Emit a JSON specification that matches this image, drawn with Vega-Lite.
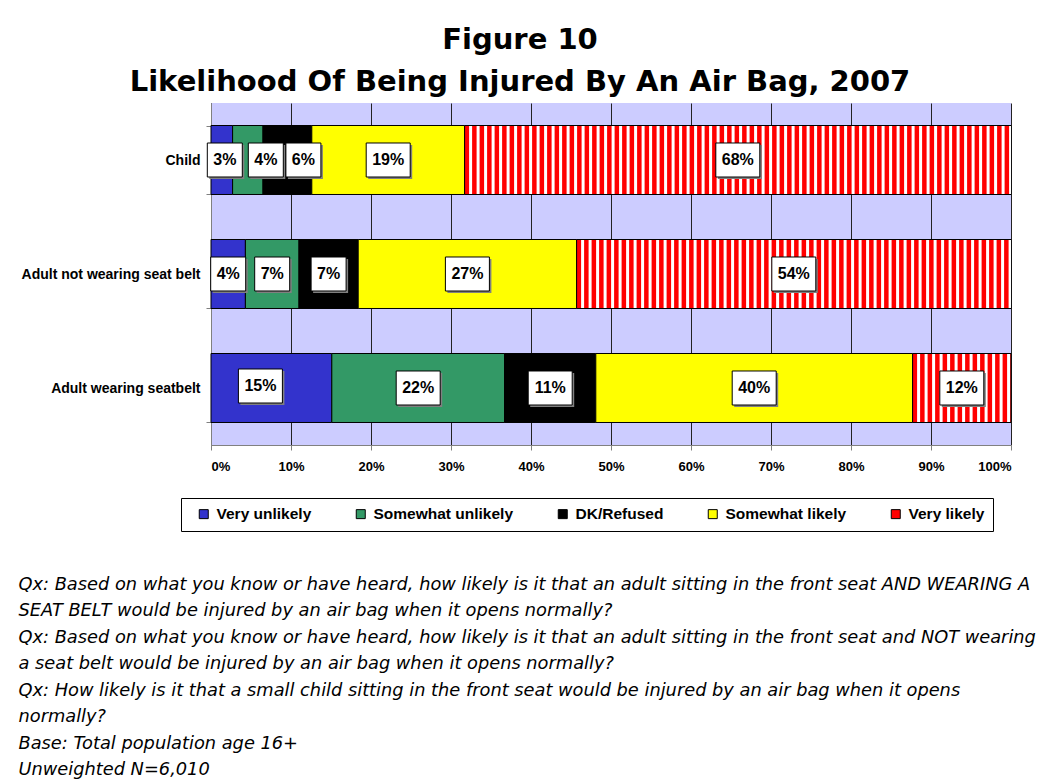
{
  "$schema": "https://vega.github.io/schema/vega-lite/v6.json",
  "autosize": "none",
  "width": 800,
  "height": 342,
  "padding": {"left": 211, "top": 103, "right": 26, "bottom": 339},
  "background": "white",
  "config": {
    "font": "Liberation Sans",
    "view": {"fill": "#CCCCFF", "stroke": null},
    "title": {"font": "DejaVu Sans", "fontSize": 29, "fontWeight": "bold", "color": "black", "lineHeight": 42, "anchor": "middle", "dx": -91, "offset": -1}
  },
  "title": {"text": ["Figure 10", "Likelihood Of Being Injured By An Air Bag, 2007"]},
  "data": {
    "values": [
      {"group": "Child", "cat": "Very unlikely", "order": 1, "pct": 0.027},
      {"group": "Child", "cat": "Somewhat unlikely", "order": 2, "pct": 0.038},
      {"group": "Child", "cat": "DK/Refused", "order": 3, "pct": 0.061},
      {"group": "Child", "cat": "Somewhat likely", "order": 4, "pct": 0.191},
      {"group": "Child", "cat": "Very likely", "order": 5, "pct": 0.683},
      {"group": "Adult not wearing seat belt", "cat": "Very unlikely", "order": 1, "pct": 0.043},
      {"group": "Adult not wearing seat belt", "cat": "Somewhat unlikely", "order": 2, "pct": 0.067},
      {"group": "Adult not wearing seat belt", "cat": "DK/Refused", "order": 3, "pct": 0.074},
      {"group": "Adult not wearing seat belt", "cat": "Somewhat likely", "order": 4, "pct": 0.273},
      {"group": "Adult not wearing seat belt", "cat": "Very likely", "order": 5, "pct": 0.543},
      {"group": "Adult wearing seatbelt", "cat": "Very unlikely", "order": 1, "pct": 0.151},
      {"group": "Adult wearing seatbelt", "cat": "Somewhat unlikely", "order": 2, "pct": 0.216},
      {"group": "Adult wearing seatbelt", "cat": "DK/Refused", "order": 3, "pct": 0.114},
      {"group": "Adult wearing seatbelt", "cat": "Somewhat likely", "order": 4, "pct": 0.396},
      {"group": "Adult wearing seatbelt", "cat": "Very likely", "order": 5, "pct": 0.123}
    ]
  },
  "encoding": {
    "y": {
      "field": "group", "type": "nominal",
      "sort": ["Child", "Adult not wearing seat belt", "Adult wearing seatbelt"],
      "scale": {"paddingInner": 0.395, "paddingOuter": 0.1975},
      "axis": {
        "title": null, "tickBand": "extent", "domainColor": "#808080", "tickColor": "#808080", "tickSize": 5,
        "labelFont": "Liberation Sans", "labelFontSize": 14, "labelFontWeight": "bold", "labelColor": "black", "labelPadding": 6, "labelLimit": 300
      }
    }
  },
  "layer": [
    {
      "mark": {"type": "bar", "stroke": "black", "strokeWidth": 1},
      "encoding": {
        "x": {
          "field": "pct", "type": "quantitative", "stack": "zero",
          "scale": {"domain": [0, 1], "nice": false},
          "axis": {
            "values": [0, 0.1, 0.2, 0.3, 0.4, 0.5, 0.6, 0.7, 0.8, 0.9, 1],
            "format": ".0%", "grid": true, "gridColor": "#222222", "gridWidth": 1, "gridOpacity": 1,
            "domainColor": "#808080", "tickColor": "#808080", "tickSize": 5,
            "labelFont": "Liberation Sans", "labelFontSize": 13, "labelFontWeight": "bold", "labelColor": "black", "labelPadding": 10,
            "title": [
              "Qx: Based on what you know or have heard, how likely is it that an adult sitting in the front seat AND WEARING A",
              "SEAT BELT would be injured by an air bag when it opens normally?",
              "Qx: Based on what you know or have heard, how likely is it that an adult sitting in the front seat and NOT wearing",
              "a seat belt would be injured by an air bag when it opens normally?",
              "Qx: How likely is it that a small child sitting in the front seat would be injured by an air bag when it opens",
              "normally?",
              "Base: Total population age 16+",
              "Unweighted N=6,010"
            ],
            "titleFont": "DejaVu Sans", "titleFontSize": 17.8, "titleFontStyle": "italic", "titleFontWeight": "normal",
            "titleColor": "black", "titleLineHeight": 26.5, "titleAlign": "left", "titleBaseline": "top",
            "titleX": -193, "titleY": 130, "titleAngle": 0
          }
        },
        "order": {"field": "order", "type": "quantitative"},
        "color": {
          "field": "cat", "type": "nominal",
          "scale": {
            "domain": ["Very unlikely", "Somewhat unlikely", "DK/Refused", "Somewhat likely", "Very likely"],
            "range": ["#3333CC", "#339966", "#000000", "#FFFF00", "#FF0000"]
          },
          "legend": {
            "title": null, "orient": "none", "legendX": -30, "legendY": 395, "direction": "horizontal",
            "strokeColor": "black", "padding": 8, "symbolOffset": 7,
            "symbolType": "square", "symbolSize": 81, "symbolStrokeColor": "black", "symbolStrokeWidth": 1,
            "labelFont": "Liberation Sans", "labelFontSize": 15.5, "labelFontWeight": "bold", "labelColor": "black",
            "labelOffset": 5, "columnPadding": 34, "labelLimit": 300
          }
        }
      }
    },
    {
      "transform": [
        {"stack": "pct", "groupby": ["group"], "sort": [{"field": "order"}], "as": ["x0", "x1"]},
        {"filter": "datum.cat === 'Very likely'"}
      ],
      "mark": {"type": "rule", "stroke": "white", "strokeWidth": 68, "strokeDash": [3, 4.5], "strokeDashOffset": 3, "strokeCap": "butt"},
      "encoding": {
        "x": {"field": "x0", "type": "quantitative"},
        "x2": {"field": "x1"}
      }
    },
    {
      "mark": {
        "type": "point", "filled": true, "fill": "#808080", "opacity": 1, "stroke": null,
        "shape": {"expr": "datum.pct >= 0.095 ? 'M-1,-0.773H1V0.773H-1Z' : 'M-1,-0.971H1V0.971H-1Z'"},
        "size": {"expr": "datum.pct >= 0.095 ? 1936 : 1225"},
        "xOffset": {"expr": "2 + (datum.group === 'Child' ? (datum.cat === 'Very unlikely' ? 3 : datum.cat === 'Somewhat unlikely' ? 18 : datum.cat === 'DK/Refused' ? 16 : 0) : (datum.group === 'Adult wearing seatbelt' && datum.cat === 'Very unlikely' ? -11 : 0))"},
        "yOffset": {"expr": "2 + (datum.group === 'Adult wearing seatbelt' && datum.cat === 'Very unlikely' ? -2 : 0)"}
      },
      "encoding": {
        "x": {"field": "pct", "type": "quantitative", "stack": "zero", "bandPosition": 0.5},
        "order": {"field": "order", "type": "quantitative"}
      }
    },
    {
      "mark": {
        "type": "point", "filled": true, "fill": "white", "opacity": 1, "stroke": "black", "strokeWidth": 1,
        "shape": {"expr": "datum.pct >= 0.095 ? 'M-1,-0.773H1V0.773H-1Z' : 'M-1,-0.971H1V0.971H-1Z'"},
        "size": {"expr": "datum.pct >= 0.095 ? 1936 : 1225"},
        "xOffset": {"expr": "datum.group === 'Child' ? (datum.cat === 'Very unlikely' ? 3 : datum.cat === 'Somewhat unlikely' ? 18 : datum.cat === 'DK/Refused' ? 16 : 0) : (datum.group === 'Adult wearing seatbelt' && datum.cat === 'Very unlikely' ? -11 : 0)"},
        "yOffset": {"expr": "datum.group === 'Adult wearing seatbelt' && datum.cat === 'Very unlikely' ? -2 : 0"}
      },
      "encoding": {
        "x": {"field": "pct", "type": "quantitative", "stack": "zero", "bandPosition": 0.5},
        "order": {"field": "order", "type": "quantitative"}
      }
    },
    {
      "mark": {
        "type": "text", "font": "Liberation Sans", "fontSize": 16, "fontWeight": "bold", "color": "black", "baseline": "middle", "align": "center",
        "xOffset": {"expr": "datum.group === 'Child' ? (datum.cat === 'Very unlikely' ? 3 : datum.cat === 'Somewhat unlikely' ? 18 : datum.cat === 'DK/Refused' ? 16 : 0) : (datum.group === 'Adult wearing seatbelt' && datum.cat === 'Very unlikely' ? -11 : 0)"},
        "yOffset": {"expr": "datum.group === 'Adult wearing seatbelt' && datum.cat === 'Very unlikely' ? -2 : 0"}
      },
      "encoding": {
        "x": {"field": "pct", "type": "quantitative", "stack": "zero", "bandPosition": 0.5},
        "order": {"field": "order", "type": "quantitative"},
        "text": {"field": "pct", "type": "quantitative", "format": ".0%"}
      }
    }
  ]
}
